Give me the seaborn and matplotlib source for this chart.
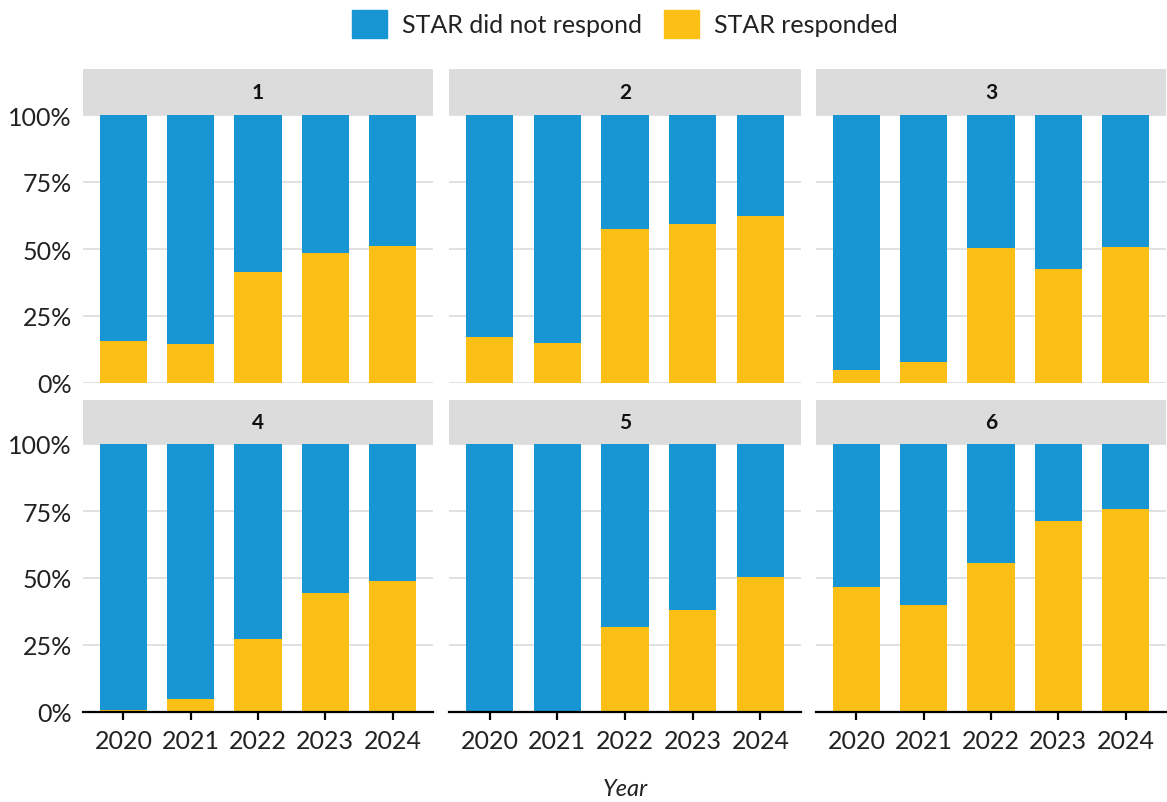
import matplotlib
matplotlib.use("Agg")
import matplotlib.pyplot as plt
import matplotlib.patches as mpatches
import seaborn as sns
import pandas as pd
import numpy as np

years = ["2020", "2021", "2022", "2023", "2024"]
panels = ["1", "2", "3", "4", "5", "6"]
responded_1 = [15.5, 14.7, 41.4, 48.6, 51.1]
responded_2 = [17.0, 15.0, 57.5, 59.3, 62.2]
responded_3 = [5.0, 7.8, 50.3, 42.6, 50.8]
responded_4 = [0.6, 5.0, 27.1, 44.5, 48.7]
responded_5 = [0.0, 0.3, 31.8, 37.9, 50.3]
responded_6 = [46.6, 39.9, 55.7, 71.1, 75.7]
responded = [responded_1, responded_2, responded_3, responded_4, responded_5, responded_6]
series_labels = ["STAR did not respond", "STAR responded"]
y_ticks = [0, 25, 50, 75, 100]
y_tick_labels = ["0%", "25%", "50%", "75%", "100%"]

BLUE = "#1896d3"
YELLOW = "#fcbf15"

sns.set_theme(style="white")
plt.rcParams["font.family"] = ["Lato", "DejaVu Sans"]

W, H = 1167, 803
fig = plt.figure(figsize=(W / 100, H / 100), dpi=100)

cols = [(83, 433), (449, 801), (816, 1166)]
rows = [(116, 384, 70), (445, 713, 401)]

def fx(x): return x / W
def fy(y): return 1 - y / H

for i, pname in enumerate(panels):
    r, c = divmod(i, 3)
    x0, x1 = cols[c]
    ytop, ybot, ystrip = rows[r]
    ax = fig.add_axes([fx(x0), fy(ybot), fx(x1 - x0), (ybot - ytop) / H])
    resp = np.array(responded[i])
    notresp = 100 - resp
    df = pd.DataFrame({"year": years, "resp": resp, "total": resp + notresp})
    sns.barplot(data=df, x="year", y="total", color=BLUE, width=0.7, ax=ax,
                saturation=1, edgecolor="none", linewidth=0, zorder=2)
    sns.barplot(data=df, x="year", y="resp", color=YELLOW, width=0.7, ax=ax,
                saturation=1, edgecolor="none", linewidth=0, zorder=3)
    ax.set_xlim(-0.6, 4.6)
    ax.set_ylim(0, 100)
    ax.set_yticks(y_ticks)
    for t in y_ticks:
        ax.axhline(t, color="#dedede", lw=1.3, zorder=1)
    ax.set_xlabel("")
    ax.set_ylabel("")
    for s in ["top", "right", "left", "bottom"]:
        ax.spines[s].set_visible(False)
    if c == 0:
        ax.set_yticklabels(y_tick_labels, fontsize=18, color="#222222")
    else:
        ax.set_yticklabels([])
    ax.tick_params(axis="y", length=0, pad=8)
    if r == 1:
        ax.spines["bottom"].set_visible(True)
        ax.spines["bottom"].set_color("black")
        ax.spines["bottom"].set_linewidth(1.6)
        ax.spines["bottom"].set_zorder(5)
        ax.tick_params(axis="x", length=6, width=1.6, color="black",
                       labelsize=18, labelcolor="#222222", pad=6, bottom=True)
    else:
        ax.set_xticklabels([])
        ax.tick_params(axis="x", length=0)
    # strip
    sax = fig.add_axes([fx(x0), fy(ytop), fx(x1 - x0), (ytop - ystrip) / H])
    sax.set_facecolor("#dcdcdc")
    sax.set_xticks([]); sax.set_yticks([])
    for s in sax.spines.values():
        s.set_visible(False)
    sax.text(0.5, 0.5, pname, ha="center", va="center", fontsize=15,
             fontweight="bold", color="#111111", transform=sax.transAxes)

fig.text(fx(625), fy(790), "Year", ha="center", va="center", fontsize=17,
         style="italic", color="#222222")

handles = [mpatches.Patch(color=BLUE, label=series_labels[0]),
           mpatches.Patch(color=YELLOW, label=series_labels[1])]
fig.legend(handles=handles, loc="center", bbox_to_anchor=(fx(625), fy(25)),
           ncol=2, frameon=False, fontsize=18, handlelength=1.4, handleheight=1.4,
           handletextpad=0.6, columnspacing=0.9, labelcolor="#222222")

fig.savefig("out.png", dpi=100)
